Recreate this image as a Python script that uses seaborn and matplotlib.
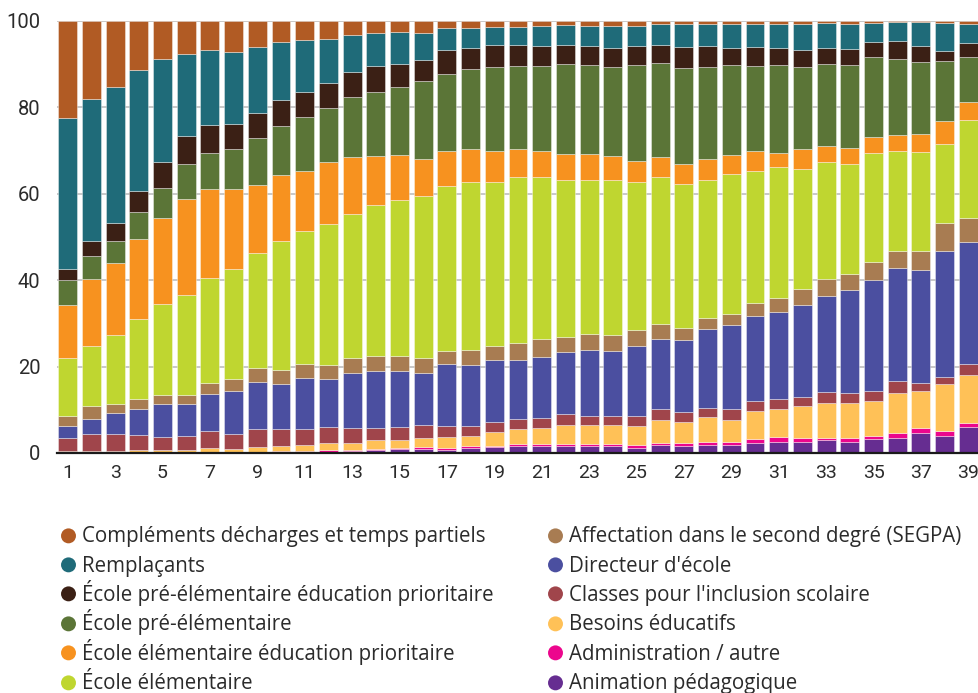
import matplotlib.pyplot as plt
import pandas as pd
import seaborn as sns
from matplotlib.lines import Line2D
from matplotlib.path import Path

RANKS = list(range(1, 40))
XTICKS = list(range(1, 40, 2))
YTICKS = [0, 20, 40, 60, 80, 100]

# categories from top of the stack to bottom (same order as the legend)
CATEGORIES = [
    "Compléments décharges et temps partiels",
    "Remplaçants",
    "École pré-élémentaire éducation prioritaire",
    "École pré-élémentaire",
    "École élémentaire éducation prioritaire",
    "École élémentaire",
    "Affectation dans le second degré (SEGPA)",
    "Directeur d'école",
    "Classes pour l'inclusion scolaire",
    "Besoins éducatifs",
    "Administration / autre",
    "Animation pédagogique",
]
COLORS = [
    "#B15B24", "#1F6B79", "#3B2015", "#5B7537", "#F7921F", "#BFD630",
    "#A87C52", "#4B4FA0", "#A0454B", "#FFC157", "#EC068D", "#662D91",
]

# shares in % per rank
complements = [22.5, 18.0, 15.3, 11.3, 8.9, 7.6, 6.6, 7.2, 6.0, 4.8, 4.3, 4.2, 3.2, 2.8, 2.5, 2.7, 1.6, 1.6, 1.4, 1.4,
               1.2, 1.0, 1.2, 1.2, 1.1, 0.7, 0.6, 0.6, 0.8, 0.6, 0.6, 0.6, 0.5, 0.6, 0.5, 0.3, 0.3, 0.5, 0.6]
remplacants = [34.9, 32.85, 31.4, 28.0, 23.7, 19.1, 17.4, 16.7, 15.3, 13.4, 12.1, 10.1, 8.5, 7.6, 7.5, 6.3, 5.1, 4.65,
               4.2, 4.2, 4.6, 4.6, 4.7, 5.05, 4.8, 4.8, 5.4, 5.2, 5.4, 5.4, 5.6, 6.0, 5.7, 5.8, 4.4, 4.3, 5.5, 6.4, 4.4]
pre_elem_ep = [2.6, 3.65, 4.15, 4.9, 6.0, 6.5, 6.5, 5.7, 5.7, 6.2, 5.9, 5.8, 5.8, 6.0, 5.2, 5.0, 5.6, 4.95, 5.1, 4.8,
               4.6, 4.4, 4.4, 4.4, 4.4, 4.2, 4.8, 4.9, 4.1, 4.4, 4.1, 4.1, 3.8, 3.7, 3.5, 4.3, 3.6, 2.4, 3.4]
pre_elem = [5.8, 5.2, 5.25, 6.3, 7.0, 8.0, 8.5, 9.4, 10.9, 11.3, 12.4, 12.5, 14.0, 14.85, 15.9, 17.9, 17.9, 18.35, 19.5,
            19.2, 19.8, 20.9, 20.4, 20.6, 22.0, 21.8, 22.2, 21.3, 20.8, 19.6, 20.3, 19.0, 19.0, 19.4, 18.5, 17.5, 16.8,
            13.9, 10.4]
elem_ep = [12.1, 15.6, 16.7, 18.4, 20.0, 22.2, 20.6, 18.5, 15.9, 15.3, 14.0, 14.4, 13.2, 11.25, 10.3, 8.5, 8.1, 7.8, 7.1,
           6.6, 5.8, 5.8, 6.0, 5.65, 4.9, 4.5, 4.8, 4.7, 4.4, 4.8, 3.2, 4.5, 3.7, 3.7, 3.6, 3.8, 4.2, 5.3, 4.2]
elem = [13.6, 13.9, 15.85, 18.6, 21.0, 23.2, 24.2, 25.45, 26.6, 29.7, 30.8, 32.7, 33.3, 35.1, 36.2, 37.5, 38.1, 38.8,
        37.9, 38.3, 37.6, 36.4, 35.8, 35.8, 34.3, 34.1, 33.3, 32.05, 32.3, 30.5, 30.3, 27.8, 27.0, 25.4, 25.4, 23.0,
        22.8, 18.3, 22.5]
segpa = [2.3, 2.9, 2.0, 2.2, 2.0, 2.0, 2.5, 2.7, 3.2, 3.3, 3.1, 3.15, 3.4, 3.5, 3.5, 3.5, 3.1, 3.45, 3.3, 4.0, 4.2, 3.5,
         3.6, 3.7, 3.7, 3.5, 2.7, 2.65, 2.6, 3.1, 3.2, 3.7, 3.9, 3.6, 4.0, 3.9, 4.4, 6.4, 5.6]
directeur = [2.7, 3.6, 4.85, 6.2, 7.6, 7.5, 8.6, 9.85, 10.8, 10.5, 11.8, 11.15, 12.7, 13.0, 12.9, 12.05, 14.2, 14.15,
             14.25, 13.6, 14.0, 14.4, 15.25, 14.95, 16.15, 16.3, 16.6, 18.1, 19.5, 19.5, 20.1, 21.25, 22.35, 24.0, 25.75,
             26.2, 26.1, 29.3, 28.2]
classes = [3.1, 3.9, 4.1, 3.5, 3.2, 3.3, 3.9, 3.55, 4.2, 3.95, 3.8, 3.6, 3.5, 3.0, 3.0, 3.1, 2.6, 2.4, 2.3, 2.3, 2.3, 2.5,
           2.15, 2.25, 2.45, 2.4, 2.35, 2.25, 2.4, 2.45, 2.4, 2.25, 2.55, 2.2, 2.4, 2.7, 2.0, 1.6, 2.65]
besoins = [0.4, 0.4, 0.4, 0.6, 0.6, 0.6, 0.95, 0.8, 1.15, 1.15, 1.3, 1.8, 1.6, 2.0, 1.85, 2.15, 2.55, 2.3, 3.25, 3.6,
           3.75, 4.5, 4.5, 4.25, 4.4, 5.4, 5.0, 5.75, 5.2, 6.45, 6.6, 7.3, 7.95, 8.1, 8.0, 9.35, 8.6, 10.8, 11.05]
administration = [0, 0, 0, 0, 0, 0, 0.15, 0.1, 0.1, 0.2, 0.25, 0.3, 0.3, 0.3, 0.3, 0.4, 0.35, 0.3, 0.3, 0.45, 0.45,
                  0.45, 0.45, 0.55, 0.55, 0.5, 0.65, 0.7, 0.65, 0.9, 0.95, 0.85, 0.55, 0.85, 0.7, 1.15, 1.05, 1.1, 1.05]
animation = [0, 0, 0, 0, 0, 0, 0.1, 0.05, 0.15, 0.2, 0.25, 0.3, 0.5, 0.6, 0.85, 0.9, 0.8, 1.25, 1.4, 1.55, 1.7, 1.55,
             1.55, 1.6, 1.25, 1.8, 1.6, 1.8, 1.85, 2.3, 2.65, 2.65, 3.0, 2.65, 3.25, 3.5, 4.65, 4.0, 5.95]

SERIES = [complements, remplacants, pre_elem_ep, pre_elem, elem_ep, elem,
          segpa, directeur, classes, besoins, administration, animation]

# round legend marker, nudged a little below the handle centre
DOT = Path.circle(center=(0, -0.45), radius=1)


def build_frame() -> pd.DataFrame:
    rows = []
    for cat, values in zip(CATEGORIES, SERIES):
        for rank, v in zip(RANKS, values):
            rows.append((rank, cat, v))
    return pd.DataFrame(rows, columns=["rang", "categorie", "part"])


def add_legend_column(fig, labels, colors, x_px):
    handles = [
        Line2D([], [], marker=DOT, linestyle="none", markersize=15.6,
               markerfacecolor=c, markeredgecolor=c, markeredgewidth=0)
        for c in colors
    ]
    fig.legend(
        handles,
        labels,
        loc="upper left",
        bbox_to_anchor=(x_px / 979, 1 - 521 / 693),
        frameon=False,
        prop={"family": ["Open Sans", "DejaVu Sans"], "size": 14.8},
        handlelength=0.8,
        handleheight=1.8,
        handletextpad=0.28,
        labelspacing=0.015,
        borderpad=0,
        borderaxespad=0,
        labelcolor="#2b2b2b",
    )


def main() -> None:
    df = build_frame()

    sns.set_theme(style="white")
    plt.rcParams["font.family"] = ["Roboto", "DejaVu Sans"]

    fig = plt.figure(figsize=(9.79, 6.93), dpi=100)
    ax = fig.add_axes([57 / 979, 1 - 453 / 693, 922 / 979, 432 / 693])

    sns.histplot(
        data=df,
        x="rang",
        weights="part",
        hue="categorie",
        hue_order=CATEGORIES,
        palette=COLORS,
        multiple="stack",
        discrete=True,
        shrink=0.8,
        alpha=1,
        edgecolor=(1, 1, 1, 0.45),
        linewidth=0.6,
        legend=False,
        ax=ax,
    )

    ax.set_xlim(0.55, 39.45)
    ax.set_ylim(0, 100)
    ax.set_xticks(XTICKS)
    ax.set_yticks(YTICKS)
    ax.set_xlabel("")
    ax.set_ylabel("")
    ax.yaxis.grid(True, color="#c4c4c4", linewidth=1.3)
    ax.set_axisbelow(True)
    for side in ["top", "right", "left"]:
        ax.spines[side].set_visible(False)
    ax.spines["bottom"].set_color("#1a1a1a")
    ax.spines["bottom"].set_linewidth(1.6)
    ax.tick_params(axis="y", length=0, pad=12, labelsize=14.5, labelcolor="#2b2b2b")
    ax.tick_params(axis="x", length=0, pad=8, labelsize=14, labelcolor="#2b2b2b")

    add_legend_column(fig, CATEGORIES[:6], COLORS[:6], 60)
    add_legend_column(fig, CATEGORIES[6:], COLORS[6:], 547)

    fig.savefig("out.png", dpi=100)
    plt.close(fig)


if __name__ == "__main__":
    main()
